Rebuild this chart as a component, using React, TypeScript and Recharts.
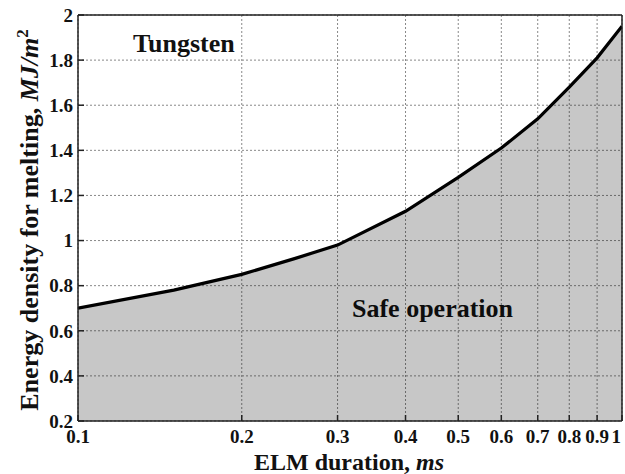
import { Area, CartesianGrid, ComposedChart, XAxis, YAxis } from 'recharts'

const durations = [0.1, 0.15, 0.2, 0.25, 0.3, 0.4, 0.5, 0.6, 0.7, 0.8, 0.9, 1.0]
const energies = [0.7, 0.78, 0.85, 0.92, 0.98, 1.13, 1.28, 1.41, 1.54, 1.68, 1.81, 1.95]

const xTicks = [0.1, 0.2, 0.3, 0.4, 0.5, 0.6, 0.7, 0.8, 0.9, 1]
const yTicks = [0.2, 0.4, 0.6, 0.8, 1, 1.2, 1.4, 1.6, 1.8, 2]

const data = durations.map((d, i) => ({ d, e: energies[i] }))

const FONT = 'Liberation Serif, Times New Roman, Times, serif'
const tickStyle = { fontFamily: FONT, fontSize: 19, fontWeight: 700, fill: '#111' }
const lineStyle = { stroke: '#222', strokeWidth: 1.5 }

// bottom tick labels; the last one is nudged so it stays inside the picture
function XTick(props: any) {
  const { x, y, payload, index } = props
  const last = index === xTicks.length - 1
  return (
    <text x={last ? x - 1 : x} y={y} dy="0.71em" textAnchor={last ? 'end' : 'middle'} {...tickStyle}>
      {String(payload.value)}
    </text>
  )
}

export default function App() {
  return (
    <div style={{ position: 'absolute', left: 0, top: 0, width: 625, height: 474, background: '#fff', fontFamily: FONT }}>
      <ComposedChart width={625} height={474} data={data} margin={{ top: 14, right: 1, bottom: 0, left: 0 }}>
        <CartesianGrid stroke="#888" strokeDasharray="2 2" />
        <XAxis
          dataKey="d"
          type="number"
          scale="log"
          domain={[0.1, 1]}
          ticks={xTicks}
          interval={0}
          allowDataOverflow
          height={53}
          tickSize={-6}
          tickMargin={15}
          tick={<XTick />}
          axisLine={lineStyle}
          tickLine={lineStyle}
        />
        <XAxis
          xAxisId="top"
          orientation="top"
          dataKey="d"
          type="number"
          scale="log"
          domain={[0.1, 1]}
          ticks={xTicks}
          interval={0}
          allowDataOverflow
          height={1}
          tickSize={-6}
          tick={false}
          axisLine={lineStyle}
          tickLine={lineStyle}
        />
        <YAxis
          type="number"
          domain={[0.2, 2]}
          ticks={yTicks}
          interval={0}
          allowDataOverflow
          width={78}
          tickSize={-6}
          tickMargin={11}
          tick={tickStyle}
          axisLine={lineStyle}
          tickLine={lineStyle}
        />
        <YAxis
          yAxisId="right"
          orientation="right"
          type="number"
          domain={[0.2, 2]}
          ticks={yTicks}
          interval={0}
          allowDataOverflow
          width={2}
          tickSize={-6}
          tick={false}
          axisLine={lineStyle}
          tickLine={lineStyle}
        />
        <Area
          type="linear"
          dataKey="e"
          stroke="#000"
          strokeWidth={3.2}
          fill="#000"
          fillOpacity={0.22}
          isAnimationActive={false}
          dot={false}
          activeDot={false}
        />
        <text x={133} y={52} fontFamily={FONT} fontSize={26} fontWeight={700} fill="#111">
          Tungsten
        </text>
        <text x={352} y={317} fontFamily={FONT} fontSize={26} fontWeight={700} fill="#111">
          Safe operation
        </text>
        <text x={349} y={470} textAnchor="middle" fontFamily={FONT} fontSize={24} fontWeight={700} fill="#111">
          ELM duration, <tspan fontStyle="italic">ms</tspan>
        </text>
        <text
          transform="rotate(-90)"
          x={-220}
          y={38}
          textAnchor="middle"
          fontFamily={FONT}
          fontSize={26}
          fontWeight={700}
          fill="#111"
        >
          Energy density for melting, <tspan fontStyle="italic">MJ/m</tspan>
          <tspan dy={-10} fontSize={17}>2</tspan>
        </text>
      </ComposedChart>
    </div>
  )
}
